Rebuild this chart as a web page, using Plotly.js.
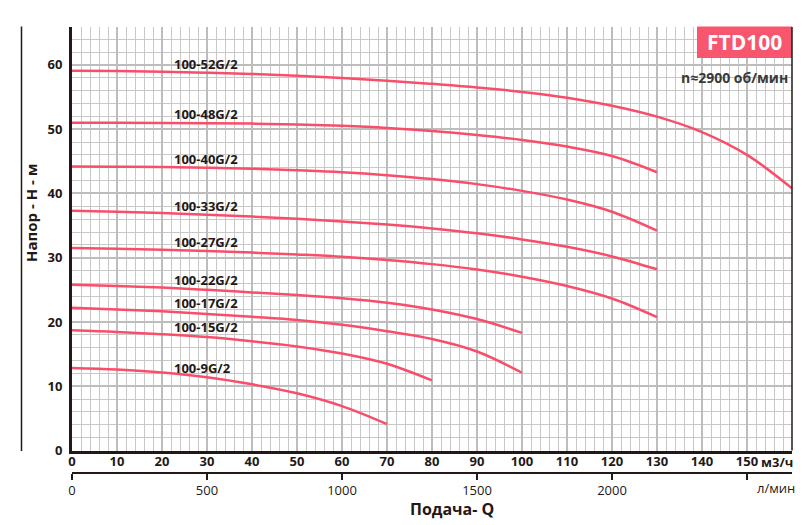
<!DOCTYPE html>
<html><head><meta charset="utf-8">
<script src="https://cdn.plot.ly/plotly-3.0.1.min.js"></script>
<style>html,body{margin:0;padding:0;background:#fff}</style>
</head><body><div id="chart" style="width:809px;height:525px"></div>
<script>
// ---- data ----
const flowM3h = [0,10,20,30,40,50,60,70,80,90,100,110,120,130,140,150,160];
const xTickVals = [0,10,20,30,40,50,60,70,80,90,100,110,120,130,140,150];
const xTickText = ['0','10','20','30','40','50','60','70','80','90','100','110','120','130','140','150'];
const yTickVals = [0,10,20,30,40,50,60];
const lminTickVals = [0,500,1000,1500,2000,2500];
const lminTickText = ['0','500','1000','1500','2000',''];
const models = ['100-52G/2','100-48G/2','100-40G/2','100-33G/2','100-27G/2','100-22G/2','100-17G/2','100-15G/2','100-9G/2'];
const head52 = [59.1,59.05,58.95,58.8,58.6,58.3,57.95,57.55,57.05,56.5,55.8,54.9,53.65,51.95,49.55,46.0,40.8];
const head48 = [51.0,51.0,50.98,50.94,50.87,50.74,50.52,50.19,49.72,49.09,48.32,47.29,45.82,43.3];
const head40 = [44.2,44.15,44.1,44.0,43.85,43.6,43.3,42.85,42.25,41.45,40.4,39.05,37.15,34.2];
const head33 = [37.3,37.15,36.95,36.7,36.4,36.05,35.65,35.15,34.55,33.8,32.85,31.7,30.2,28.2];
const head27 = [31.5,31.4,31.25,31.05,30.8,30.5,30.15,29.65,29.0,28.15,27.05,25.6,23.65,20.75];
const head22 = [25.8,25.6,25.35,25.0,24.6,24.2,23.7,23.0,21.95,20.45,18.3];
const head17 = [22.2,21.95,21.65,21.25,20.8,20.3,19.55,18.55,17.35,15.4,12.1];
const head15 = [18.7,18.45,18.1,17.65,17.0,16.2,15.1,13.5,10.9];
const head9  = [12.85,12.6,12.15,11.4,10.3,8.9,6.9,4.1];
const heads = [head52,head48,head40,head33,head27,head22,head17,head15,head9];

// ---- styling ----
const FONT = 'Open Sans, Liberation Sans, sans-serif';
const DARK = '#231815';
const CURVE = '#f94e6a';
const M3H_TO_LMIN = 1000/60;
const labelH = [60.2,52.4,45.3,38.1,32.4,26.55,22.9,19.2,12.8];

const traces = heads.map((h,i)=>({
  x: flowM3h.slice(0,h.length), y: h, type:'scatter', mode:'lines',
  line:{color:CURVE, width:2.5, shape:'spline', smoothing:1},
  name: models[i], showlegend:false, hoverinfo:'skip'
}));
traces.push({x:[], y:[], xaxis:'x2', yaxis:'y', type:'scatter', mode:'lines', showlegend:false, hoverinfo:'skip'});

const annotations = models.map((m,i)=>({
  text:m, x:22.2, y:labelH[i], xref:'x', yref:'y', xanchor:'left', yanchor:'middle',
  showarrow:false, font:{family:FONT, size:13, weight:700, color:DARK}
}));
annotations.push(
  {text:'м3/ч', xref:'paper', yref:'paper', x:(777-72)/720, y:(472-461.5)/445, xanchor:'center', yanchor:'middle', showarrow:false, font:{family:FONT,size:13,weight:700,color:DARK}},
  {text:'л/мин', xref:'paper', yref:'paper', x:(776-72)/720, y:(472-488)/445, xanchor:'center', yanchor:'middle', showarrow:false, font:{family:FONT,size:13,color:DARK}},
  {text:'Подача- Q', xref:'paper', yref:'paper', x:(452-72)/720, y:(472-509)/445, xanchor:'center', yanchor:'middle', showarrow:false, font:{family:FONT,size:16,weight:700,color:DARK}},
  {text:'Напор - H - м', xref:'paper', yref:'paper', x:(31-72)/720, y:(472-213)/445, xanchor:'center', yanchor:'middle', textangle:-90, showarrow:false, font:{family:FONT,size:15,weight:700,color:DARK}},
  {text:'FTD100', xref:'paper', yref:'paper', x:(744.5-72)/720, y:(472-42)/445, xanchor:'center', yanchor:'middle', showarrow:false, font:{family:FONT,size:21,weight:700,color:'#ffffff'}},
  {text:'n≈2900 об/мин', xref:'paper', yref:'paper', x:(790-72)/720, y:(472-77)/445, xanchor:'right', yanchor:'middle', showarrow:false, font:{family:FONT,size:14,weight:700,color:'#3a3a3a'}}
);

const shapes = [
  {type:'rect', xref:'paper', yref:'paper', x0:(697-72)/720, x1:(792-72)/720, y0:(472-58)/445, y1:(472-26.5)/445, fillcolor:'#f7566e', line:{width:0}, layer:'above'},
  {type:'line', xref:'x domain', yref:'y domain', x0:1, x1:1, y0:0, y1:1, line:{color:DARK, width:1.5}},
  {type:'line', xref:'paper', yref:'paper', x0:(21.5-72)/720, x1:(21.5-72)/720, y0:(472-451)/445, y1:(472-26.5)/445, line:{color:DARK, width:1.5}}
];

const layout = {
  width:809, height:525,
  margin:{l:72, r:17, t:27, b:53, pad:0},
  paper_bgcolor:'#ffffff', plot_bgcolor:'#ffffff',
  showlegend:false,
  font:{family:FONT, color:DARK},
  xaxis:{range:[0,160], tickvals:xTickVals, ticktext:xTickText, anchor:'y',
    showgrid:true, gridcolor:'#bdbdbd', gridwidth:2,
    minor:{dtick:2, tick0:0, showgrid:true, gridcolor:'#c8c8c8', gridwidth:1},
    showline:true, linecolor:DARK, linewidth:3, zeroline:false, ticks:'',
    tickfont:{family:FONT, size:13, weight:700, color:DARK}, ticklabelstandoff:-3, fixedrange:true},
  xaxis2:{overlaying:'x', anchor:'free', position:0, side:'bottom',
    range:[0,160*M3H_TO_LMIN], tickvals:lminTickVals, ticktext:lminTickText,
    showgrid:false, zeroline:false, showline:true, linecolor:DARK, linewidth:1.5,
    ticks:'outside', ticklen:6, tickwidth:1.5, tickcolor:DARK,
    tickfont:{family:FONT, size:13, color:DARK}},
  yaxis:{range:[0,65.9], domain:[21.5/445,1], tickvals:yTickVals,
    showgrid:true, gridcolor:'#bdbdbd', gridwidth:2,
    minor:{dtick:2, tick0:0, showgrid:true, gridcolor:'#c8c8c8', gridwidth:1},
    showline:true, linecolor:DARK, linewidth:3, zeroline:false, ticks:'',
    tickfont:{family:FONT, size:13, weight:700, color:DARK}, ticklabelstandoff:4, fixedrange:true},
  annotations: annotations,
  shapes: shapes
};
Plotly.newPlot('chart', traces, layout, {staticPlot:true, displayModeBar:false});
</script>
</body></html>
